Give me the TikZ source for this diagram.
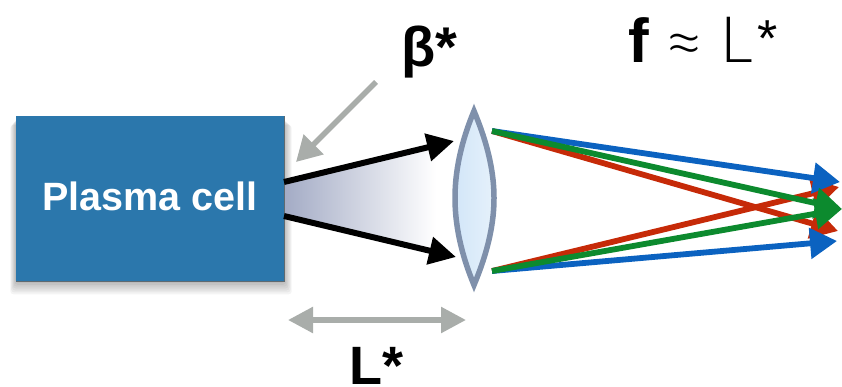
\documentclass[tikz,border=0pt]{standalone}
\usepackage{fontspec}
\setmainfont{Liberation Sans}
\newfontfamily\lightf{Lato Light}
\usetikzlibrary{arrows.meta}
\definecolor{cellblue}{HTML}{2B77AC}
\definecolor{celledge}{HTML}{5F6A70}
\definecolor{arrowgray}{HTML}{A9ADAA}
\definecolor{lensedge}{HTML}{7F90AB}
\definecolor{lensl}{HTML}{D2E6F9}
\definecolor{lensr}{HTML}{E6F1FA}
\definecolor{beamc}{HTML}{A3ABC5}
\definecolor{rayblue}{HTML}{0B62C0}
\definecolor{raygreen}{HTML}{0C8A2E}
\definecolor{rayred}{HTML}{C62A08}
\tikzset{
  beamarrow/.style={line width=6pt,black,-{Triangle[length=27pt,width=27pt]}},
  grayarrow/.style={line width=5.5pt,arrowgray,-{Triangle[length=25pt,width=27pt]}},
  gaugearrow/.style={line width=5.5pt,arrowgray,{Triangle[length=25pt,width=25pt]}-{Triangle[length=25pt,width=25pt]}},
  ray/.style={line width=5.8pt,-{Triangle[length=27pt,width=30pt]}},
  celltext/.style={text=white,font=\bfseries\fontsize{39.5}{39.5}\selectfont,inner sep=0pt},
  bigtext/.style={text=black,inner sep=0pt,anchor=base west},
  softshadow/.style={black,opacity=0.045,rounded corners=3pt},
}
\begin{document}
\begin{tikzpicture}[x=1pt,y=-1pt]
\useasboundingbox (0,0) rectangle (842,386);
% soft shadow of the cell
\foreach \d in {1,2,...,7}{
  \fill[softshadow] (16-\d*0.8,118+\d) rectangle (284+\d*1.1,281+\d*1.9);
}
% beam
\shade[left color=beamc,right color=white]
  (284,184) -- (436,146) -- (436,252) -- (284,214) -- cycle;
\node[rectangle,fill=cellblue,minimum width=268pt,minimum height=165pt,inner sep=0pt,anchor=north west] (cell) at (16,116) {};
\draw[celledge,line width=1pt] (cell.south west) -- (cell.south east) -- (cell.north east);
\node[celltext] (celllabel) at (150,196) {Plasma cell};
% lens
\coordinate (lensTop) at (474,111);
\coordinate (lensBot) at (474,285);
\shade[left color=lensl,right color=lensr] (lensTop)
  .. controls (464,135) and (455,165) .. (455,198)
  .. controls (455,231) and (464,261) .. (lensBot)
  .. controls (484,261) and (494,231) .. (494,198)
  .. controls (494,165) and (484,135) .. (lensTop) -- cycle;
\draw[lensedge,line width=5.5pt,miter limit=20] (lensTop)
  .. controls (464,135) and (455,165) .. (455,198)
  .. controls (455,231) and (464,261) .. (lensBot)
  .. controls (484,261) and (494,231) .. (494,198)
  .. controls (494,165) and (484,135) .. (lensTop) -- cycle;
% named ends
\coordinate (beamA) at (284,182);
\coordinate (beamATip) at (454,141);
\coordinate (beamB) at (284,216);
\coordinate (beamBTip) at (456,257);
\coordinate (betaFrom) at (376,82);
\coordinate (betaTip) at (296,162);
\coordinate (gaugeL) at (288,320);
\coordinate (gaugeR) at (466,320);
\coordinate (rayTop) at (492,131);
\coordinate (rayBot) at (492,271);
\coordinate (tipBlueA) at (840,182);
\coordinate (tipGreen) at (842,209);
\coordinate (tipRedA) at (838,231);
\coordinate (tipBlueB) at (837,241);
\coordinate (tipRedB) at (839,187);
\draw[beamarrow] (beamA) -- (beamATip);
\draw[beamarrow] (beamB) -- (beamBTip);
\draw[grayarrow] (betaFrom) -- (betaTip);
\draw[gaugearrow] (gaugeL) -- (gaugeR);
\draw[ray,rayred] (rayTop) -- (tipRedA);
\draw[ray,rayred] (rayBot) -- (tipRedB);
\draw[ray,rayblue] (rayBot) -- (tipBlueB);
\draw[ray,rayblue] (rayTop) -- (tipBlueA);
\draw[ray,raygreen] (rayTop) -- (tipGreen);
\draw[ray,raygreen] (rayBot) -- (tipGreen);
% labels
\node[bigtext,font=\bfseries\fontsize{56}{56}\selectfont] (betalabel) at (401,66) {β*};
\node[bigtext,font=\bfseries\fontsize{54}{54}\selectfont] (Llabel) at (349,384) {L*};
\node[bigtext,font=\bfseries\fontsize{62}{62}\selectfont] (flabel) at (628,62) {f};
\node[bigtext,font=\lightf\fontsize{72}{72}\selectfont] (approxlabel) at (663,67) {≈};
\node[bigtext,font=\lightf\fontsize{64}{64}\selectfont] (fLlabel) at (720,62) {L};
\node[bigtext,font=\fontsize{52}{52}\selectfont] (fLstar) at (757,56) {*};
\end{tikzpicture}
\end{document}
